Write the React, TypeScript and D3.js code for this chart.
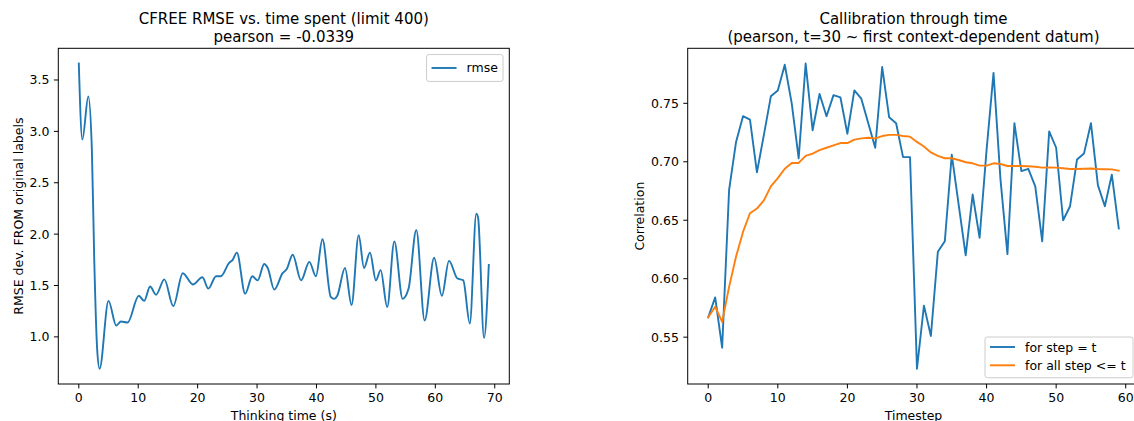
import React from "react";
import * as d3 from "d3";

// ---------- Left chart data ----------
const rmseTimes = [0, 0.6, 1.6, 2.2, 2.6, 3.1, 3.5, 5.0, 6.3, 7.1, 8.2, 10.1, 11.0, 12.0, 13.0, 14.4, 15.9, 17.5, 19.2, 20.8, 21.8, 23.1, 23.9, 25.3, 25.9, 26.6, 28.0, 29.2, 30.1, 31.2, 31.8, 32.9, 34.3, 35.0, 36.0, 37.4, 38.8, 39.9, 41.0, 42.4, 43.0, 43.5, 44.8, 45.9, 47.1, 48.0, 49.0, 50.0, 50.8, 51.9, 53.1, 54.5, 55.5, 56.8, 58.2, 59.8, 61.1, 62.3, 63.7, 64.7, 65.8, 66.9, 67.2, 68.2, 69.0];
const rmseValues = [3.66, 2.92, 3.34, 2.82, 1.75, 0.87, 0.69, 1.35, 1.11, 1.15, 1.14, 1.40, 1.35, 1.49, 1.41, 1.56, 1.30, 1.62, 1.51, 1.58, 1.47, 1.59, 1.59, 1.72, 1.75, 1.82, 1.42, 1.59, 1.55, 1.71, 1.67, 1.46, 1.62, 1.66, 1.80, 1.55, 1.73, 1.59, 1.95, 1.39, 1.37, 1.40, 1.67, 1.31, 1.99, 1.67, 1.82, 1.55, 1.65, 1.29, 1.93, 1.37, 1.47, 2.04, 1.16, 1.77, 1.40, 1.74, 1.57, 1.55, 1.13, 2.20, 2.16, 0.99, 1.70];
const leftXTicks = [0, 10, 20, 30, 40, 50, 60, 70];
const leftYTicks = [1.0, 1.5, 2.0, 2.5, 3.0, 3.5];

// ---------- Right chart data ----------
const stepCorr = [0.567, 0.584, 0.541, 0.676, 0.717, 0.739, 0.736, 0.691, 0.723, 0.756, 0.761, 0.783, 0.750, 0.703, 0.784, 0.727, 0.758, 0.739, 0.757, 0.755, 0.724, 0.761, 0.754, 0.733, 0.712, 0.781, 0.738, 0.733, 0.704, 0.704, 0.523, 0.577, 0.551, 0.623, 0.632, 0.706, 0.663, 0.620, 0.672, 0.635, 0.710, 0.776, 0.685, 0.621, 0.733, 0.692, 0.694, 0.679, 0.632, 0.726, 0.712, 0.650, 0.662, 0.702, 0.707, 0.733, 0.680, 0.662, 0.689, 0.643];
const cumCorr = [0.567, 0.576, 0.563, 0.593, 0.619, 0.640, 0.656, 0.660, 0.667, 0.679, 0.686, 0.694, 0.699, 0.699, 0.705, 0.707, 0.710, 0.712, 0.714, 0.716, 0.716, 0.719, 0.720, 0.7205, 0.720, 0.722, 0.723, 0.723, 0.722, 0.7215, 0.717, 0.713, 0.708, 0.705, 0.703, 0.703, 0.7015, 0.6996, 0.6987, 0.6967, 0.6967, 0.6987, 0.6981, 0.6964, 0.6964, 0.6964, 0.6962, 0.6958, 0.6950, 0.6952, 0.6950, 0.6945, 0.6938, 0.6938, 0.6940, 0.6942, 0.6938, 0.6936, 0.6935, 0.6924];
const rightXTicks = [0, 10, 20, 30, 40, 50, 60];
const rightYTicks = [0.55, 0.60, 0.65, 0.70, 0.75];

const BLUE = "#1f77b4";
const ORANGE = "#ff7f0e";
const FONT = "DejaVu Sans, sans-serif";
const TICK_FS = 12.5;
const TITLE_FS = 15;

function pad(ext: [number, number]): [number, number] {
  const r = ext[1] - ext[0];
  return [ext[0] - 0.05 * r, ext[1] + 0.05 * r];
}

type AxProps = {
  x0: number; x1: number; y0: number; y1: number;
  xs: d3.ScaleLinear<number, number>; ys: d3.ScaleLinear<number, number>;
  xTicks: number[]; yTicks: number[]; yFmt: (v: number) => string;
  title: string[]; xLabel: string; yLabel: string; yLabelX: number; id: string;
  children?: React.ReactNode;
};

function Axes(p: AxProps) {
  const cx = (p.x0 + p.x1) / 2;
  const cy = (p.y0 + p.y1) / 2;
  return (
    <g>
      <defs>
        <clipPath id={p.id}>
          <rect x={p.x0} y={p.y0} width={p.x1 - p.x0} height={p.y1 - p.y0} />
        </clipPath>
      </defs>
      <g clipPath={`url(#${p.id})`}>{p.children}</g>
      <rect x={p.x0} y={p.y0} width={p.x1 - p.x0} height={p.y1 - p.y0} fill="none" stroke="#000" strokeWidth={1} />
      {p.xTicks.map((t) => (
        <g key={"x" + t}>
          <line x1={p.xs(t)} x2={p.xs(t)} y1={p.y1} y2={p.y1 + 4.4} stroke="#000" strokeWidth={1} />
          <text x={p.xs(t)} y={p.y1 + 18.3} textAnchor="middle" fontSize={TICK_FS} fontFamily={FONT} fill="#000">{t}</text>
        </g>
      ))}
      {p.yTicks.map((t) => (
        <g key={"y" + t}>
          <line x1={p.x0 - 4.4} x2={p.x0} y1={p.ys(t)} y2={p.ys(t)} stroke="#000" strokeWidth={1} />
          <text x={p.x0 - 8.8} y={p.ys(t) + 4.5} textAnchor="end" fontSize={TICK_FS} fontFamily={FONT} fill="#000">{p.yFmt(t)}</text>
        </g>
      ))}
      <text x={cx} y={p.y1 + 35.5} textAnchor="middle" fontSize={TICK_FS} fontFamily={FONT} fill="#000">{p.xLabel}</text>
      <text transform={`translate(${p.yLabelX},${cy}) rotate(-90)`} textAnchor="middle" fontSize={TICK_FS} fontFamily={FONT} fill="#000">{p.yLabel}</text>
      {p.title.map((t, i) => (
        <text key={i} x={cx} y={24 + i * 17.5} textAnchor="middle" fontSize={TITLE_FS} fontFamily={FONT} fill="#000">{t}</text>
      ))}
    </g>
  );
}

export default function App() {
  const Y0 = 48.3, Y1 = 384;
  // left
  const L0 = 58.3, L1 = 509.3;
  const lx = d3.scaleLinear().domain(pad(d3.extent(rmseTimes) as [number, number])).range([L0, L1]);
  const ly = d3.scaleLinear().domain(pad(d3.extent(rmseValues) as [number, number])).range([Y1, Y0]);
  const rmsePts = rmseTimes.map((t, i) => [t, rmseValues[i]] as [number, number]);
  const rmseLine = d3.line<[number, number]>().x((d) => lx(d[0])).y((d) => ly(d[1])).curve(d3.curveMonotoneX);

  // right
  const R0 = 687.7, R1 = 1139.3;
  const steps = stepCorr.map((_, i) => i);
  const rx = d3.scaleLinear().domain(pad([0, steps.length - 1])).range([R0, R1]);
  const allVals = stepCorr.concat(cumCorr);
  const ry = d3.scaleLinear().domain(pad(d3.extent(allVals) as [number, number])).range([Y1, Y0]);
  const rLine = d3.line<number>().x((_, i) => rx(i)).y((d) => ry(d));

  // legends
  const fs = TICK_FS;
  const lLegW = 0.4 * fs * 2 + 2 * fs + 0.8 * fs + 31.5;
  const lLegX = L1 - 0.5 * fs - lLegW;
  const lLegY = Y0 + 0.5 * fs;
  const lLegH = 0.8 * fs + 1.35 * fs;

  const rLegX = 985, rLegY = 337, rLegH = Y1 - 0.5 * fs - 337;
  const rLegW = R1 - 0.5 * fs - rLegX;

  return (
    <svg width={1134} height={421} style={{ position: "absolute", left: 0, top: 0, background: "#fff" }}>
      <rect width={1134} height={421} fill="#fff" />
      <Axes x0={L0} x1={L1} y0={Y0} y1={Y1} xs={lx} ys={ly} xTicks={leftXTicks} yTicks={leftYTicks}
        yFmt={(v) => v.toFixed(1)} title={["CFREE RMSE vs. time spent (limit 400)", "pearson = -0.0339"]}
        xLabel="Thinking time (s)" yLabel="RMSE dev. FROM original labels" yLabelX={22.8} id="clipL">
        <path d={rmseLine(rmsePts) || ""} fill="none" stroke={BLUE} strokeWidth={1.9} strokeLinejoin="round" strokeLinecap="square" />
      </Axes>
      <Axes x0={R0} x1={R1} y0={Y0} y1={Y1} xs={rx} ys={ry} xTicks={rightXTicks} yTicks={rightYTicks}
        yFmt={(v) => v.toFixed(2)} title={["Callibration through time", "(pearson, t=30 ~ first context-dependent datum)"]}
        xLabel="Timestep" yLabel="Correlation" yLabelX={643.5} id="clipR">
        <path d={rLine(stepCorr) || ""} fill="none" stroke={BLUE} strokeWidth={1.9} strokeLinejoin="round" strokeLinecap="square" />
        <path d={rLine(cumCorr) || ""} fill="none" stroke={ORANGE} strokeWidth={1.9} strokeLinejoin="round" strokeLinecap="square" />
      </Axes>
      {/* left legend */}
      <g>
        <rect x={lLegX} y={lLegY} width={lLegW} height={lLegH} rx={2.5} fill="#fff" fillOpacity={0.8} stroke="#cccccc" strokeWidth={1} />
        <line x1={lLegX + 0.4 * fs} x2={lLegX + 2.4 * fs} y1={lLegY + lLegH / 2} y2={lLegY + lLegH / 2} stroke={BLUE} strokeWidth={1.9} />
        <text x={lLegX + 3.2 * fs} y={lLegY + lLegH / 2 + 4.5} fontSize={fs} fontFamily={FONT} fill="#000">rmse</text>
      </g>
      {/* right legend */}
      <g>
        <rect x={rLegX} y={rLegY} width={rLegW} height={rLegH} rx={2.5} fill="#fff" fillOpacity={0.8} stroke="#cccccc" strokeWidth={1} />
        {[["for step = t", BLUE], ["for all step <= t", ORANGE]].map(([lab, col], i) => {
          const cy = rLegY + 10 + i * 18.3;
          return (
            <g key={i}>
              <line x1={rLegX + 0.4 * fs} x2={rLegX + 2.4 * fs} y1={cy} y2={cy} stroke={col} strokeWidth={1.9} />
              <text x={rLegX + 3.2 * fs} y={cy + 4.5} fontSize={fs} fontFamily={FONT} fill="#000">{lab}</text>
            </g>
          );
        })}
      </g>
    </svg>
  );
}
